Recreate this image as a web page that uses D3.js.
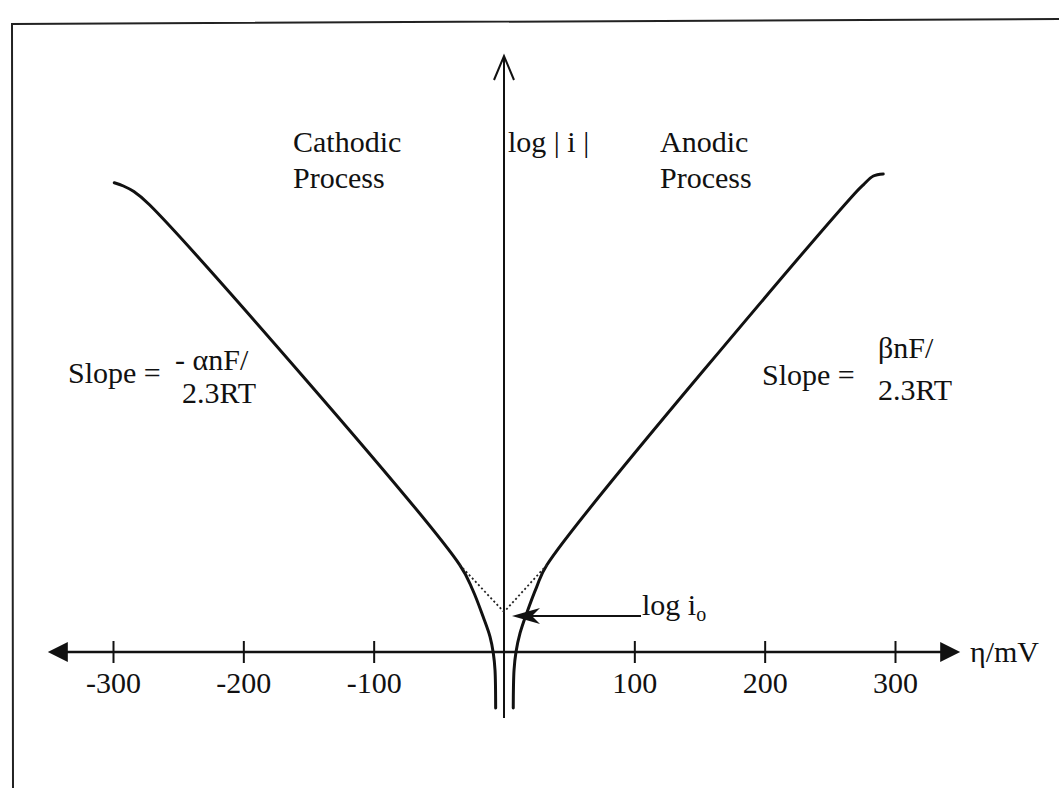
<!DOCTYPE html>
<html>
<head>
<meta charset="utf-8">
<script src="https://cdn.jsdelivr.net/npm/d3@7"></script>
<style>
  body { margin: 0; background: #fff; }
  text { font-family: "Liberation Serif", "Times New Roman", serif; fill: #111; }
</style>
</head>
<body>
<div id="chart"></div>
<script>
var width = 1059;
var height = 788;

// overpotential ticks (mV)
var xTicks = [-300, -200, -100, 100, 200, 300];

// cathodic branch: eta (mV) and log|i| (arbitrary units, log i0 = 1)
var cathodicEta = [-299, -292, -284, -272, -34, -24, -16, -10.7, -8.2, -6.9, -6.4];
var cathodicLog = [11.73, 11.65, 11.51, 11.18, 2.18, 1.55, 0.88, 0.38, -0.03, -0.45, -1.4];

// anodic branch
var anodicEta = [291, 283.4, 275.7, 269.3, 33, 25.1, 17.4, 12.3, 9.2, 7.7, 7.1];
var anodicLog = [11.95, 11.9, 11.68, 11.47, 2.18, 1.63, 0.97, 0.47, 0, -0.45, -1.4];

// dotted Tafel extrapolations to log i0
var tafelCathodicEta = [-34, 0];
var tafelCathodicLog = [2.18, 1];
var tafelAnodicEta = [33, 0];
var tafelAnodicLog = [2.18, 1];

var logI0 = 1;
var etaExtent = [-350, 350];
var logExtent = [-1.65, 14.9];

var svg = d3.select("#chart")
    .append("svg")
    .attr("width", width)
    .attr("height", height);

var x = d3.scaleLinear().domain([-300, 300]).range([113, 895]);
var y = d3.scaleLinear().domain([0, 1]).range([652, 612]);

// frame (open at right and bottom, as cropped in the scan)
svg.append("path")
    .attr("d", "M13,788 L12,24 L1059,19")
    .attr("fill", "none")
    .attr("stroke", "#222")
    .attr("stroke-width", 2);

// horizontal axis with ticks
var xAxis = d3.axisBottom(x)
    .tickValues(xTicks)
    .tickSize(11)
    .tickPadding(9)
    .tickFormat(function(d){ return String(d); });

var axisG = svg.append("g")
    .attr("transform", "translate(0," + y(0) + ")")
    .call(xAxis);

axisG.select(".domain").remove();
axisG.selectAll(".tick line")
    .attr("y1", -11)
    .attr("stroke", "#111")
    .attr("stroke-width", 2);
axisG.selectAll(".tick text")
    .attr("font-size", 30)
    .attr("font-family", "Liberation Serif, serif")
    .attr("fill", "#111");

var x0 = x(etaExtent[0]), x1 = x(etaExtent[1]), yAx = y(0);
svg.append("line")
    .attr("x1", x0 + 10).attr("x2", x1 - 10)
    .attr("y1", yAx).attr("y2", yAx)
    .attr("stroke", "#111")
    .attr("stroke-width", 2.5);

svg.append("path")
    .attr("d", "M" + x0 + "," + yAx + " L" + (x0 + 20) + "," + (yAx - 10) + " L" + (x0 + 20) + "," + (yAx + 10) + " Z")
    .attr("fill", "#111");
svg.append("path")
    .attr("d", "M" + x1 + "," + yAx + " L" + (x1 - 20) + "," + (yAx - 10) + " L" + (x1 - 20) + "," + (yAx + 10) + " Z")
    .attr("fill", "#111");

// vertical axis with open arrow head
var xz = x(0), yTop = y(logExtent[1]);
svg.append("line")
    .attr("x1", xz).attr("x2", xz)
    .attr("y1", y(logExtent[0])).attr("y2", yTop)
    .attr("stroke", "#111")
    .attr("stroke-width", 2);
svg.append("path")
    .attr("d", "M" + (xz - 10) + "," + (yTop + 24) + " L" + xz + "," + yTop + " L" + (xz + 10) + "," + (yTop + 24))
    .attr("fill", "none")
    .attr("stroke", "#111")
    .attr("stroke-width", 2);

// curves
var line = d3.line()
    .x(function(d){ return x(d[0]); })
    .y(function(d){ return y(d[1]); })
    .curve(d3.curveCatmullRom.alpha(0.5));

var cathodic = d3.zip(cathodicEta, cathodicLog);
var anodic = d3.zip(anodicEta, anodicLog);

svg.selectAll(".branch")
    .data([cathodic, anodic])
    .enter()
    .append("path")
    .attr("class", "branch")
    .attr("d", line)
    .attr("fill", "none")
    .attr("stroke", "#111")
    .attr("stroke-width", 3)
    .attr("stroke-linecap", "round");

var straight = d3.line()
    .x(function(d){ return x(d[0]); })
    .y(function(d){ return y(d[1]); });

svg.selectAll(".tafel")
    .data([d3.zip(tafelCathodicEta, tafelCathodicLog), d3.zip(tafelAnodicEta, tafelAnodicLog)])
    .enter()
    .append("path")
    .attr("class", "tafel")
    .attr("d", straight)
    .attr("fill", "none")
    .attr("stroke", "#222")
    .attr("stroke-width", 1.8)
    .attr("stroke-dasharray", "2,2.5");

// log i0 pointer
var tipX = x(0) + 8, tipY = y(logI0) + 4;
svg.append("line")
    .attr("x1", tipX + 20).attr("x2", 641)
    .attr("y1", tipY).attr("y2", tipY)
    .attr("stroke", "#111")
    .attr("stroke-width", 2);
svg.append("path")
    .attr("d", "M" + tipX + "," + tipY + " L" + (tipX + 28) + "," + (tipY - 8) +
          " L" + (tipX + 20) + "," + tipY + " L" + (tipX + 28) + "," + (tipY + 8) + " Z")
    .attr("fill", "#111");

var lbl = svg.append("text")
    .attr("x", 642)
    .attr("y", 615)
    .attr("font-size", 30);
lbl.append("tspan").text("log i");
lbl.append("tspan").attr("font-size", 20).attr("dy", 6).text("o");

// text labels
function addText(tx, ty, str, size) {
    return svg.append("text")
        .attr("x", tx)
        .attr("y", ty)
        .attr("font-size", size || 30)
        .text(str);
}

addText(293, 152, "Cathodic");
addText(293, 188, "Process");
addText(660, 152, "Anodic");
addText(660, 188, "Process");
addText(508, 152, "log | i |");

addText(68, 383, "Slope =");
addText(175, 370, "- \u03b1nF/");
addText(182, 403, "2.3RT");

addText(762, 385, "Slope =");
addText(878, 358, "\u03b2nF/");
addText(878, 400, "2.3RT");

addText(970, 662, "\u03b7/mV");
</script>
</body>
</html>
